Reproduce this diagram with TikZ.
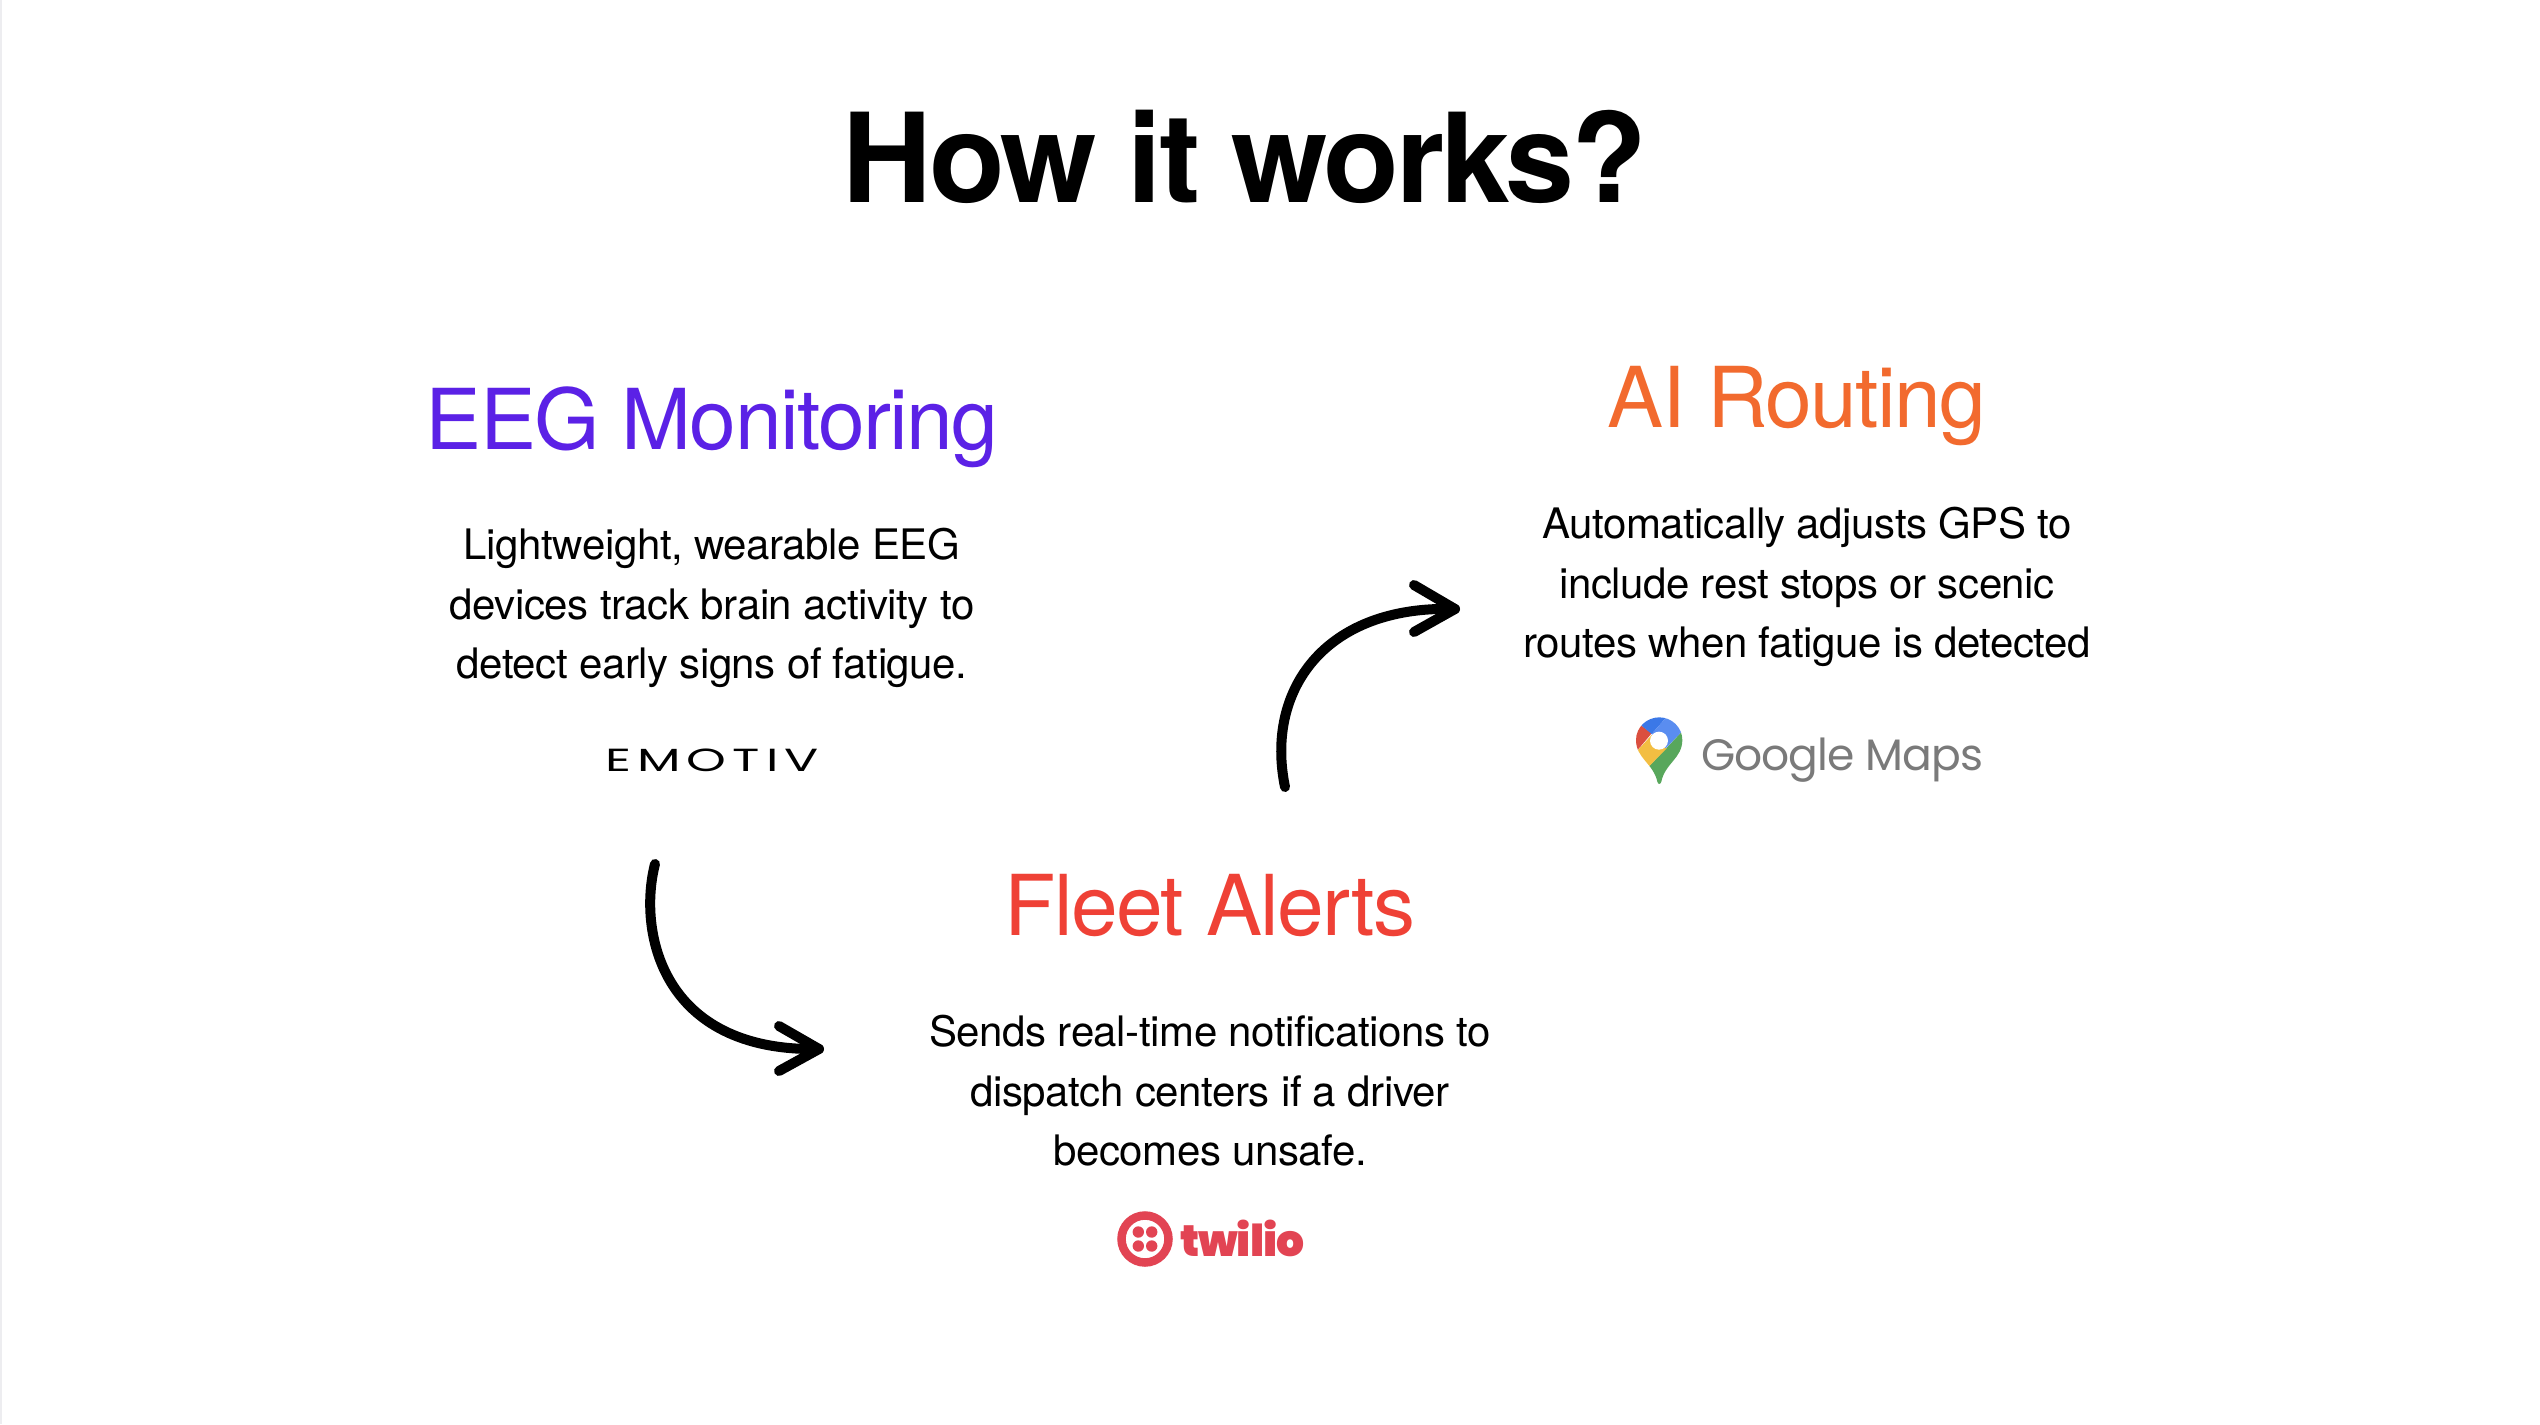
\documentclass[tikz,border=0pt]{standalone}
\usepackage{fontspec}
\setmainfont{TeX Gyre Heros}
\newfontfamily\titlefont[LetterSpace=-2.6]{TeX Gyre Heros}
\newfontfamily\headfont[LetterSpace=-1.9]{TeX Gyre Heros}
\newfontfamily\bodyfont[LetterSpace=-1]{TeX Gyre Heros}
\newfontfamily\emotivfont[LetterSpace=12]{Poppins}
\newfontfamily\mapsfont[LetterSpace=-2.2]{Poppins}
\newfontfamily\twiliofont[LetterSpace=-2.5]{Poppins}[UprightFont=* Black]
\definecolor{eeg}{HTML}{5B21E6}
\definecolor{fleet}{HTML}{EF4136}
\definecolor{routing}{HTML}{F26A2E}
\definecolor{tw}{HTML}{E24453}
\definecolor{mapsgrey}{HTML}{7A7A7A}
\definecolor{gblue}{HTML}{3B78E7}
\definecolor{glight}{HTML}{5A8DF0}
\definecolor{gred}{HTML}{DB4F3F}
\definecolor{gyellow}{HTML}{F3BE42}
\definecolor{ggreen}{HTML}{58A75C}
\definecolor{edge}{HTML}{EDEDF0}
\begin{document}
\begin{tikzpicture}[x=1pt,y=-1pt,
 titlet/.style={font=\titlefont\fontsize{124}{124}\selectfont\bfseries,inner sep=0},
 headt/.style={font=\headfont\fontsize{84}{84}\selectfont,inner sep=0},
 bodyt/.style={font=\bodyfont\fontsize{42}{59.6}\selectfont,inner sep=0,align=center},
 arr/.style={line width=10pt,line cap=round,line join=round}]
\useasboundingbox (0,0) rectangle (2540,1424);
\fill[white] (0,0) rectangle (2540,1424);
\fill[edge] (0,0) rectangle (2,1424);
\node[titlet] (title) at (1245,157) {How it works?};
\node[headt,text=eeg] (h1) at (712,427) {EEG Monitoring};
\node[bodyt] (b1) at (712,608) {Lightweight, wearable EEG\\devices track brain activity to\\detect early signs of fatigue.};
\node[headt,text=routing] (h2) at (1797,406) {AI Routing};
\node[bodyt] (b2) at (1807,587) {Automatically adjusts GPS to\\include rest stops or scenic\\routes when fatigue is detected};
\node[headt,text=fleet] (h3) at (1210,905) {Fleet Alerts};
\node[bodyt] (b3) at (1210,1091) {Sends real-time notifications to\\dispatch centers if a driver\\becomes unsafe.};
% logos
\node[inner sep=0,font=\emotivfont\fontsize{32}{32}\selectfont,xscale=1.58] (emotiv) at (712,760) {EMOTIV};
\node[inner sep=0,font=\mapsfont\fontsize{44}{44}\selectfont,text=mapsgrey,anchor=base west] (gm) at (1701,770) {Google Maps};
\node[inner sep=0,font=\twiliofont\fontsize{44}{44}\selectfont,text=tw,anchor=base west] (twl) at (1180,1256) {twilio};
% twilio mark
\draw[tw,line width=8.5pt] (1145,1239) circle[radius=23.5];
\foreach \dx/\dy in {-6.7/-7,6.7/-7,-6.7/7,6.7/7}
  \fill[tw] (1145+\dx,1239+\dy) circle[radius=5.7];
% maps pin
\begin{scope}[shift={(1600,690)},x=0.3333pt,y=-0.3333pt]
\begin{scope}
\clip (178,82) .. controls (140,82) and (108,112) .. (108,150) .. controls (108,205) and (160,220) .. (172,275) .. controls (174,284) and (182,284) .. (184,275) .. controls (195,220) and (247,205) .. (247,150) .. controls (247,112) and (215,82) .. (178,82) -- cycle;
\fill[ggreen] (100,280) -- (148,228) -- (250,120) -- (260,290) -- cycle;
\fill[gyellow] (100,195) -- (155,135) -- (200,175) -- (148,228) -- cycle;
\fill[gred] (100,195) -- (155,130) -- (122,105) -- (95,100) -- cycle;
\fill[gblue] (122,105) -- (155,132) -- (205,75) -- (120,70) -- cycle;
\fill[glight] (155,132) -- (205,75) -- (255,80) -- (250,120) -- (197,175) -- cycle;
\end{scope}
\fill[white] (177,152) circle[radius=27];
\end{scope}
% arrows
\coordinate (a1s) at (655,864);
\coordinate (a1t) at (819,1049);
\coordinate (a1u) at (779,1026);
\coordinate (a1d) at (779,1071);
\draw[arr] (a1s) .. controls (638,930) and (660,1052) .. (a1t);
\draw[arr] (a1u) -- (a1t) -- (a1d);
\coordinate (a2s) at (1285,787);
\coordinate (a2t) at (1455,609);
\coordinate (a2u) at (1414,585);
\coordinate (a2d) at (1414,632);
\draw[arr] (a2s) .. controls (1265,690) and (1325,605) .. (a2t);
\draw[arr] (a2u) -- (a2t) -- (a2d);
\end{tikzpicture}
\end{document}
